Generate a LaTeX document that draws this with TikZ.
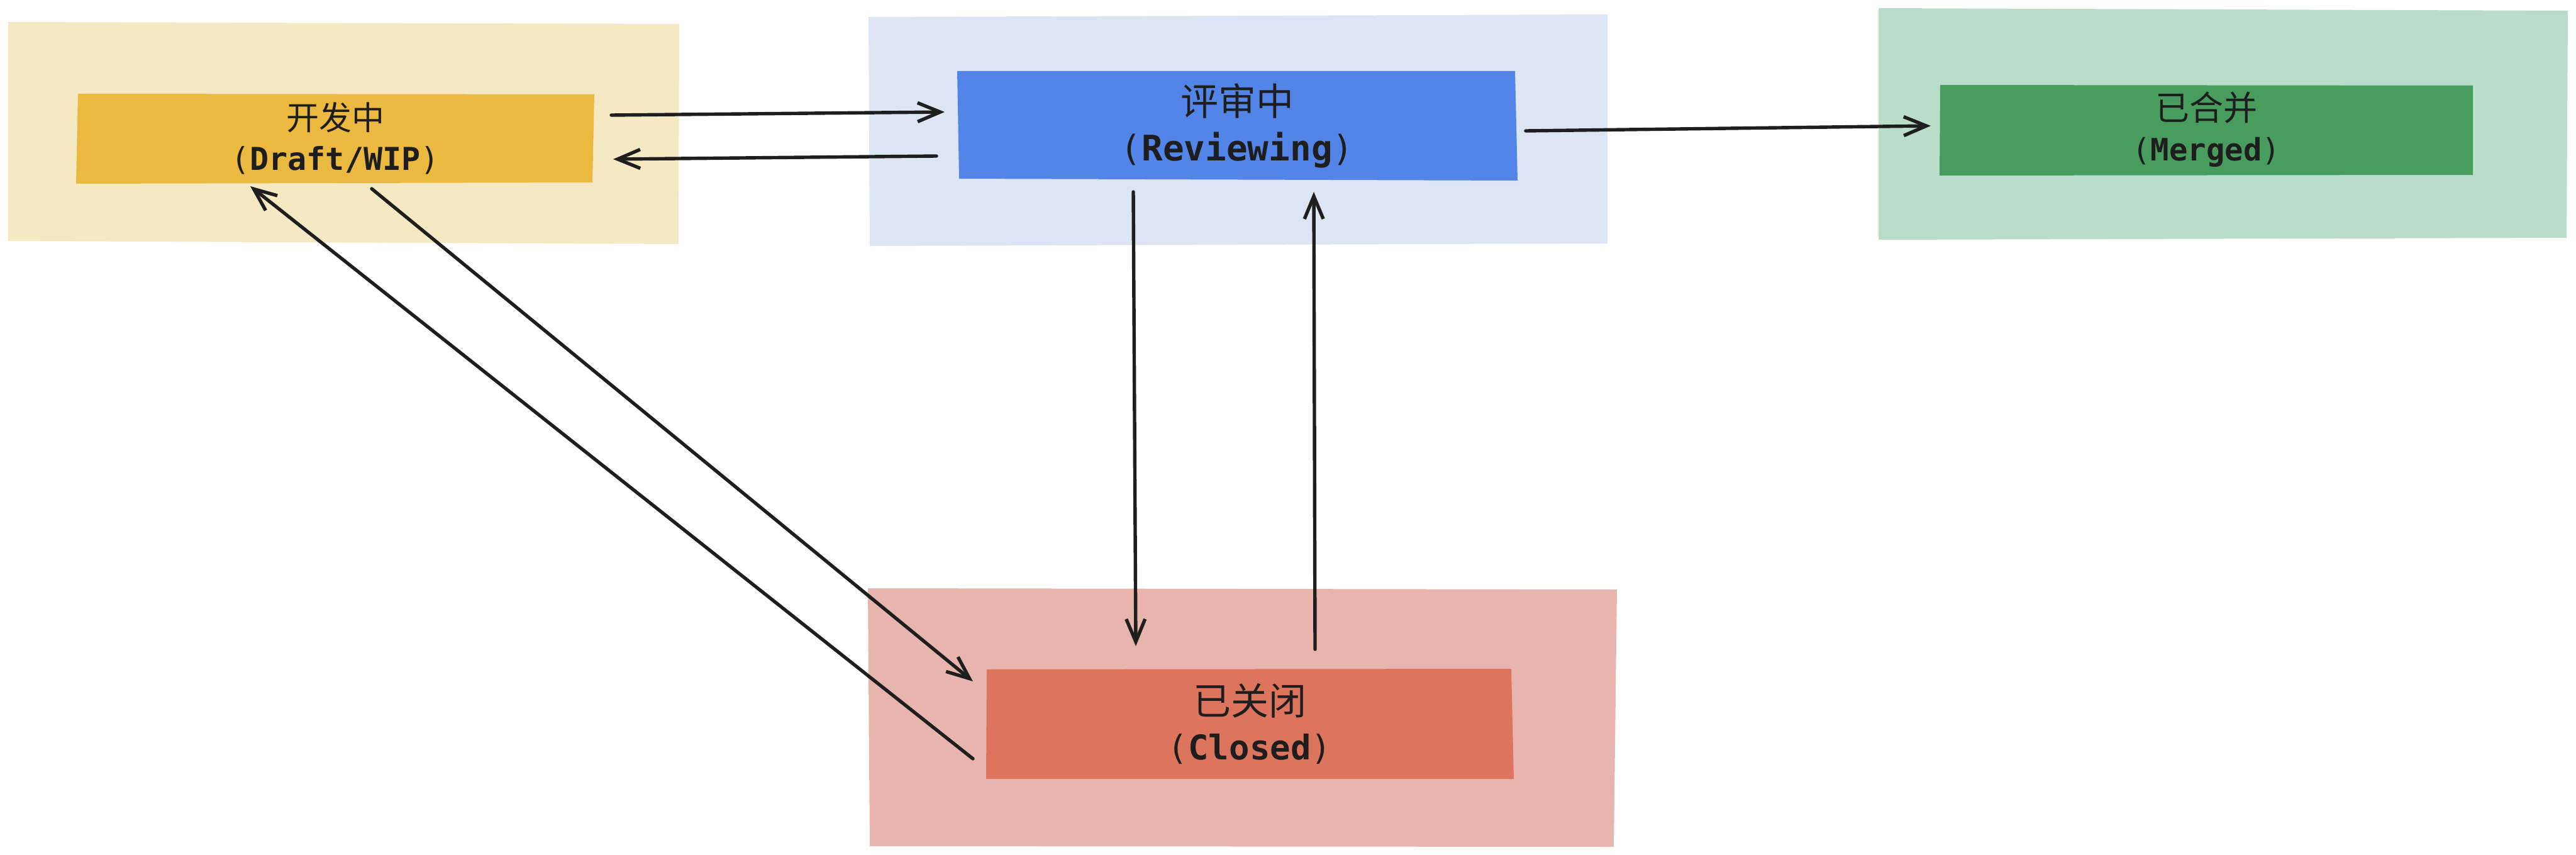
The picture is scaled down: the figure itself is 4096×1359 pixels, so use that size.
\documentclass[tikz,border=0pt]{standalone}
\usepackage{fontspec}
\newfontfamily\cjk{Noto Sans CJK SC}
\newfontfamily\mono{DejaVu Sans Mono}
\usetikzlibrary{arrows.meta}
\definecolor{yOut}{HTML}{F5E9C4}
\definecolor{yIn}{HTML}{EBB840}
\definecolor{bOut}{HTML}{DCE5F4}
\definecolor{bIn}{HTML}{5385E8}
\definecolor{gOut}{HTML}{B9DDC9}
\definecolor{gIn}{HTML}{489C5E}
\definecolor{rOut}{HTML}{E8B4AE}
\definecolor{rIn}{HTML}{DD745E}
\definecolor{ink}{HTML}{1E1E1E}
\newcommand{\statelbl}[3]{{\cjk\fontsize{#3}{\baselineskip}\selectfont #1}\\{\mono(\textbf{#2})}}
\tikzset{
  statebox/.style={inner sep=0pt, text=ink, align=center, draw=none},
  flow/.style={draw=ink, line width=2.7pt, line cap=round, line join=round,
    -{Straight Barb[length=18pt,width=15pt,line width=2.7pt]}},
}
\begin{document}
\begin{tikzpicture}[x=0.5pt,y=-0.5pt]
\useasboundingbox (0,0) rectangle (4096,1359);
% outer panels
\fill[yOut] (13,35) -- (1080,38) -- (1079,388) -- (13,383) -- cycle;
\fill[bOut] (1381,27) -- (2556,23) -- (2556,387) -- (1383,391) -- cycle;
\fill[gOut] (2987,13) -- (4083,17) -- (4081,378) -- (2987,381) -- cycle;
\fill[rOut] (1380,935) -- (2571,937) -- (2566,1346) -- (1383,1345) -- cycle;
% inner fills
\fill[yIn] (124,149) -- (945,150) -- (942,290) -- (121,292) -- cycle;
\fill[bIn] (1522,113) -- (2409,113) -- (2413,287) -- (1525,284) -- cycle;
\fill[gIn] (3085,135) -- (3932,136) -- (3932,278) -- (3084,279) -- cycle;
\fill[rIn] (1569,1064) -- (2403,1063) -- (2407,1238) -- (1568,1238) -- cycle;
% state nodes
\node[statebox, minimum width=411pt, minimum height=71pt,
  font=\fontsize{25pt}{32pt}\selectfont] (dev) at (533,220)
  {\statelbl{开发中}{Draft/WIP}{26pt}};
\node[statebox, minimum width=445pt, minimum height=87pt,
  font=\fontsize{28pt}{36pt}\selectfont] (rev) at (1967,200)
  {\statelbl{评审中}{Reviewing}{30pt}};
\node[statebox, minimum width=424pt, minimum height=72pt,
  font=\fontsize{24.5pt}{32pt}\selectfont] (mer) at (3508,206)
  {\statelbl{已合并}{Merged}{27pt}};
\node[statebox, minimum width=418pt, minimum height=88pt,
  font=\fontsize{27pt}{35.5pt}\selectfont] (clo) at (1987,1150)
  {\statelbl{已关闭}{Closed}{30pt}};
% connector end points
\coordinate (devOut1) at (972,183);
\coordinate (revIn1) at (1502,178);
\coordinate (revOut1) at (1489,248);
\coordinate (devIn1) at (975,253);
\coordinate (revOut2) at (2426,208);
\coordinate (merIn) at (3070,200);
\coordinate (revOut3) at (1802,305);
\coordinate (cloIn1) at (1806,1027);
\coordinate (cloOut1) at (2091,1032);
\coordinate (revIn2) at (2089,305);
\coordinate (devOut2) at (591,300);
\coordinate (cloIn2) at (1547,1083);
\coordinate (cloOut2) at (1547,1206);
\coordinate (devIn2) at (398,296);
% connectors
\draw[flow] (devOut1) -- (revIn1);
\draw[flow] (revOut1) -- (devIn1);
\draw[flow] (revOut2) -- (merIn);
\draw[flow] (revOut3) -- (cloIn1);
\draw[flow] (cloOut1) -- (revIn2);
\draw[flow] (devOut2) -- (cloIn2);
\draw[flow] (cloOut2) -- (devIn2);
\end{tikzpicture}
\end{document}
